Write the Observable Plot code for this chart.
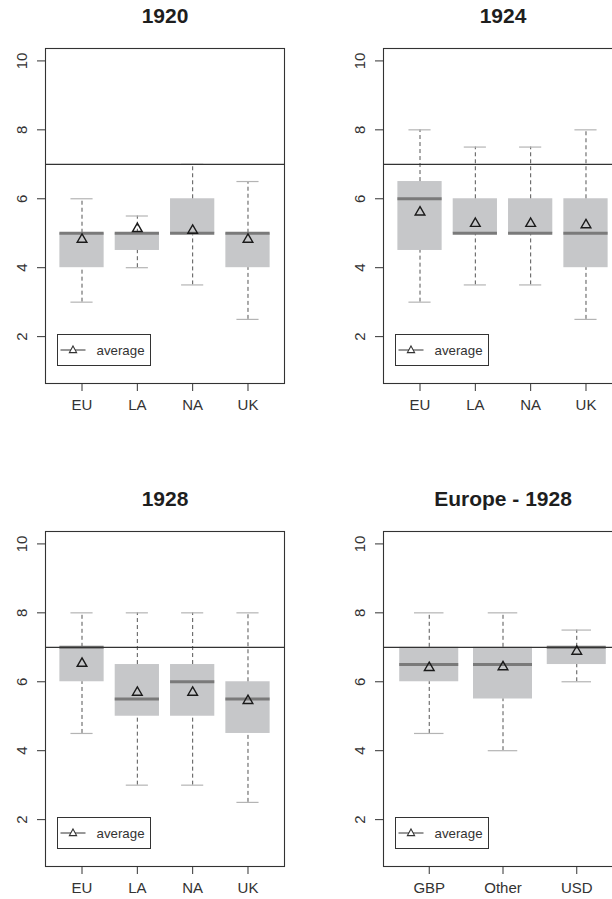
<!DOCTYPE html>
<html>
<head>
<meta charset="utf-8">
<script src="https://cdn.jsdelivr.net/npm/d3@7"></script>
<script src="https://cdn.jsdelivr.net/npm/@observablehq/plot@0.6"></script>
<style>
  html, body { margin: 0; padding: 0; background: #fff; overflow: hidden; }
  #page { position: relative; width: 612px; height: 899px; overflow: hidden; background: #fff;
          font-family: "Liberation Sans", Arial, Helvetica, sans-serif; }
  .panel { position: absolute; }
  .legend { position: absolute; box-sizing: border-box; width: 94px; height: 32px;
            border: 1px solid #333; background: #fff; }
</style>
</head>
<body>
<div id="page"></div>
<script>
// ---- data ----
const titles = ["1920", "1924", "1928", "Europe - 1928"];
const regions = ["EU", "LA", "NA", "UK"];
const currencies = ["GBP", "Other", "USD"];
const yTicks = [2, 4, 6, 8, 10];
const refLine = [7];

const lo1920   = [3, 4, 3.5, 2.5];
const q1_1920  = [4, 4.5, 5, 4];
const med1920  = [5, 5, 5, 5];
const q3_1920  = [5, 5, 6, 5];
const hi1920   = [6, 5.5, 7, 6.5];
const mean1920 = [4.82, 5.13, 5.08, 4.82];

const lo1924   = [3, 3.5, 3.5, 2.5];
const q1_1924  = [4.5, 5, 5, 4];
const med1924  = [6, 5, 5, 5];
const q3_1924  = [6.5, 6, 6, 6];
const hi1924   = [8, 7.5, 7.5, 8];
const mean1924 = [5.61, 5.28, 5.28, 5.24];

const lo1928   = [4.5, 3, 3, 2.5];
const q1_1928  = [6, 5, 5, 4.5];
const med1928  = [7, 5.5, 6, 5.5];
const q3_1928  = [7, 6.5, 6.5, 6];
const hi1928   = [8, 8, 8, 8];
const mean1928 = [6.53, 5.69, 5.69, 5.45];

const loEU   = [4.5, 4, 6];
const q1EU   = [6, 5.5, 6.5];
const medEU  = [6.5, 6.5, 7];
const q3EU   = [7, 7, 7];
const hiEU   = [8, 8, 7.5];
const meanEU = [6.41, 6.43, 6.88];

// ---- layout ----
const W = 338, H = 430, ML = 45, MT = 48, FW = 239, FH = 335;
const FONT = "'Liberation Sans', Arial, Helvetica, sans-serif";
const page = document.getElementById("page");

function panel(title, cats, lo, q1, med, q3, hi, mean, left, top) {
  const n = cats.length;
  const rows = cats.map((c, i) => ({
    pos: i + 1, cat: c, lo: lo[i], q1: q1[i], med: med[i], q3: q3[i], hi: hi[i], mean: mean[i]
  }));
  const pad = 0.04 * n;
  const half = 0.4, cap = 0.2;
  const chart = Plot.plot({
    width: W, height: H,
    marginLeft: ML, marginRight: W - ML - FW, marginTop: MT, marginBottom: H - MT - FH,
    x: { domain: [0.5 - pad, n + 0.5 + pad] },
    y: { domain: [1 - 0.36, 10 + 0.36] },
    style: { fontFamily: FONT, fontSize: "15px", color: "#333", background: "transparent", overflow: "visible" },
    marks: [
      Plot.rect(rows, { x1: d => d.pos - half, x2: d => d.pos + half, y1: "q1", y2: "q3", fill: "#c6c7c9" }),
      Plot.ruleX(rows, { x: "pos", y1: "q3", y2: "hi", stroke: "#555", strokeDasharray: "4,3" }),
      Plot.ruleX(rows, { x: "pos", y1: "lo", y2: "q1", stroke: "#555", strokeDasharray: "4,3" }),
      Plot.ruleY(rows, { y: "hi", x1: d => d.pos - cap, x2: d => d.pos + cap, stroke: "#b4b4b4", strokeWidth: 1.2 }),
      Plot.ruleY(rows, { y: "lo", x1: d => d.pos - cap, x2: d => d.pos + cap, stroke: "#b4b4b4", strokeWidth: 1.2 }),
      Plot.ruleY(rows, { y: "med", x1: d => d.pos - half, x2: d => d.pos + half, stroke: "#7a7a7a", strokeWidth: 3 }),
      Plot.ruleY(refLine, { stroke: "#333", strokeWidth: 1.2 }),
      Plot.dot(rows, { x: "pos", y: "mean", symbol: "triangle", r: 3.6, stroke: "#1a1a1a", strokeWidth: 1.4, fill: "none" }),
      Plot.frame({ stroke: "#333", strokeWidth: 1.1 }),
      Plot.axisX({ ticks: rows.map(d => d.pos), tickFormat: p => cats[p - 1], tickSize: 8, tickPadding: 8,
                   fontSize: 15, stroke: "#333", label: null }),
      Plot.axisY({ ticks: yTicks, tickSize: 8, tickFormat: () => "", stroke: "#333", label: null }),
      Plot.text(yTicks, { y: d => d, text: d => String(d), frameAnchor: "left", dx: -23, rotate: -90,
                          textAnchor: "middle", lineAnchor: "middle", fontSize: 15, fill: "#333" }),
      Plot.text([title], { text: d => d, frameAnchor: "top", dy: -32, lineAnchor: "middle",
                           fontSize: 21, fontWeight: "bold", fill: "#1e1e1e" })
    ]
  });
  chart.classList.add("panel");
  chart.style.left = left + "px";
  chart.style.top = top + "px";
  page.appendChild(chart);

  // legend box (bottom-left inside the frame)
  const lg = document.createElement("div");
  lg.className = "legend";
  lg.style.left = (left + ML + 12) + "px";
  lg.style.top = (top + MT + FH - 17 - 32) + "px";
  lg.innerHTML =
    '<svg width="92" height="30" style="position:absolute;left:0;top:0">' +
    '<line x1="2.5" x2="27.5" y1="15" y2="15" stroke="#333" stroke-width="1"/>' +
    '<path d="M15,11 L18.6,17.6 L11.4,17.6 Z" fill="#fff" stroke="#333" stroke-width="1.1"/>' +
    '<text x="38.5" y="15" dominant-baseline="central" font-size="13.3" fill="#333" font-family="' +
    "Liberation Sans, Arial, sans-serif" + '">average</text></svg>';
  page.appendChild(lg);
}

panel(titles[0], regions, lo1920, q1_1920, med1920, q3_1920, hi1920, mean1920, 0, 0);
panel(titles[1], regions, lo1924, q1_1924, med1924, q3_1924, hi1924, mean1924, 338, 0);
panel(titles[2], regions, lo1928, q1_1928, med1928, q3_1928, hi1928, mean1928, 0, 483);
panel(titles[3], currencies, loEU, q1EU, medEU, q3EU, hiEU, meanEU, 338, 483);
</script>
</body>
</html>
